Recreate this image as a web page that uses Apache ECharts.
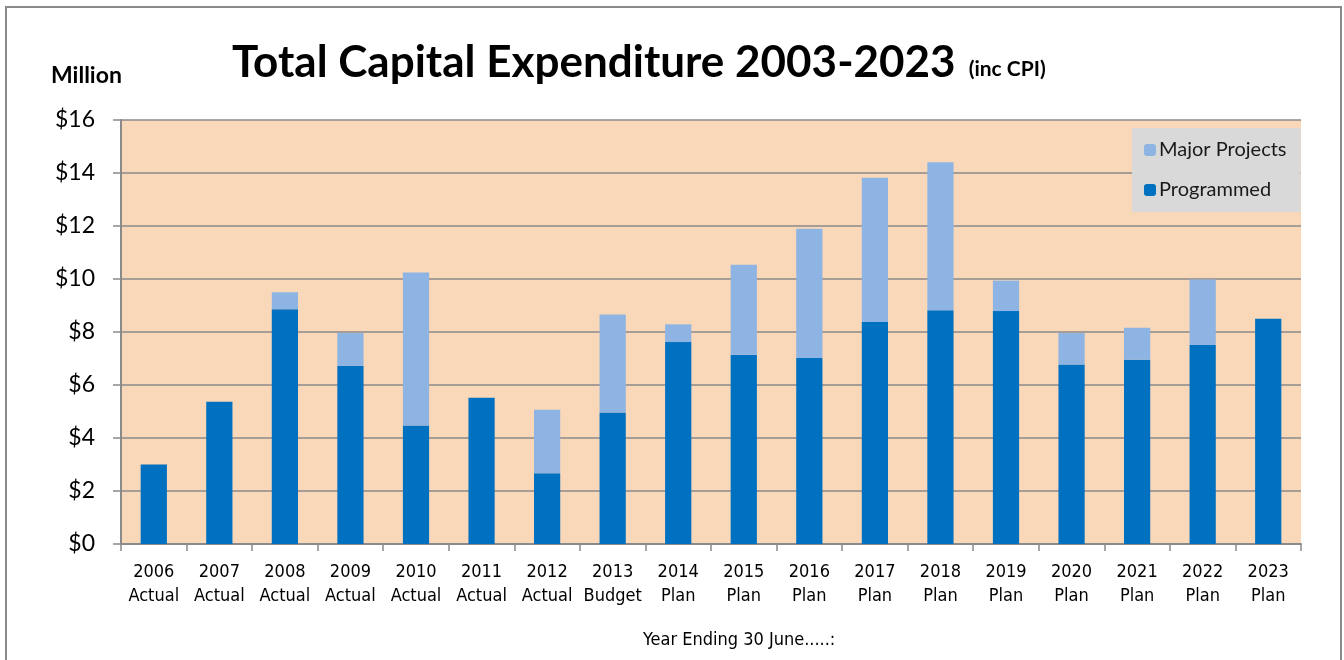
<!DOCTYPE html>
<html>
<head>
<meta charset="utf-8">
<script src="https://cdn.jsdelivr.net/npm/echarts@6/dist/echarts.min.js"></script>
<style>
html,body{margin:0;padding:0;background:#fff;}
#chart{width:1344px;height:660px;}
</style>
</head>
<body>
<div id="chart"></div>
<script>
const years = ['2006','2007','2008','2009','2010','2011','2012','2013','2014','2015','2016','2017','2018','2019','2020','2021','2022','2023'];
const stages = ['Actual','Actual','Actual','Actual','Actual','Actual','Actual','Budget','Plan','Plan','Plan','Plan','Plan','Plan','Plan','Plan','Plan','Plan'];
const programmed = [3.0, 5.37, 8.86, 6.72, 4.47, 5.52, 2.67, 4.96, 7.62, 7.14, 7.02, 8.38, 8.82, 8.79, 6.77, 6.95, 7.51, 8.5];
const majorProjects = [0, 0, 0.64, 1.24, 5.78, 0, 2.4, 3.7, 0.67, 3.4, 4.88, 5.44, 5.59, 1.15, 1.19, 1.21, 2.47, 0];
const yTicks = [0, 2, 4, 6, 8, 10, 12, 14, 16];

const categories = years.map((y, i) => y + '\n' + stages[i]);
const narrow = '"Liberation Sans Narrow", "Arial Narrow", "DejaVu Sans Condensed", sans-serif';
const main = 'Lato, "Open Sans", sans-serif';

const chart = echarts.init(document.getElementById('chart'));
chart.setOption({
  backgroundColor: '#ffffff',
  animation: false,
  graphic: [
    { type: 'rect', shape: { x: 6, y: 7, width: 1335, height: 670 },
      style: { fill: 'none', stroke: '#8a8a8a', lineWidth: 2 }, z: 0 }
  ],
  title: [
    { text: '{a|Total Capital Expenditure 2003-2023} {b|(inc CPI)}',
      left: 227, top: 36,
      textStyle: { rich: {
        a: { fontFamily: main, fontWeight: 'bold', fontSize: 44, color: '#000' },
        b: { fontFamily: main, fontWeight: 'bold', fontSize: 21, color: '#000', padding: [12, 0, 0, 8] }
      } } },
    { text: 'Million', left: 46, top: 59,
      textStyle: { fontFamily: main, fontWeight: 'bold', fontSize: 23, color: '#000' } },
    { text: 'Year Ending 30 June.....:', left: 638, top: 626,
      textStyle: { fontFamily: narrow, fontWeight: 'normal', fontSize: 18, color: '#000' } }
  ],
  legend: {
    orient: 'vertical',
    left: 1132, top: 128,
    width: 168,
    backgroundColor: '#d9d9d9',
    padding: [12, 14, 12, 12],
    itemWidth: 12, itemHeight: 12, itemGap: 20,
    data: ['Major Projects', 'Programmed'],
    textStyle: { fontFamily: main, fontSize: 20, color: '#1a1a1a', padding: [0, 0, 0, -2] }
  },
  grid: { left: 121, right: 43, top: 120, bottom: 116, containLabel: false,
          show: true, backgroundColor: '#f9d8ba', borderWidth: 0 },
  xAxis: {
    type: 'category',
    data: categories,
    axisLine: { lineStyle: { color: '#8a8a8a', width: 2 } },
    axisTick: { show: true, length: 7, lineStyle: { color: '#8a8a8a', width: 1.5 } },
    axisLabel: { fontFamily: narrow, fontSize: 18, color: '#000', lineHeight: 24, margin: 16, interval: 0 }
  },
  yAxis: {
    type: 'value',
    min: 0, max: 16, interval: 2,
    axisLine: { show: true, lineStyle: { color: '#8a8a8a', width: 2 } },
    axisTick: { show: true, length: 8, lineStyle: { color: '#8a8a8a', width: 1.5 } },
    splitLine: { lineStyle: { color: '#8a8a8a', width: 1.5 } },
    axisLabel: { fontFamily: main, fontSize: 23, color: '#000', margin: 26,
      formatter: v => yTicks.includes(v) ? '$' + v : '' }
  },
  series: [
    { name: 'Programmed', type: 'bar', stack: 'total', data: programmed,
      barWidth: '40%', itemStyle: { color: '#0070c0' } },
    { name: 'Major Projects', type: 'bar', stack: 'total', data: majorProjects,
      barWidth: '40%', itemStyle: { color: '#8eb4e3' } }
  ]
});
</script>
</body>
</html>
